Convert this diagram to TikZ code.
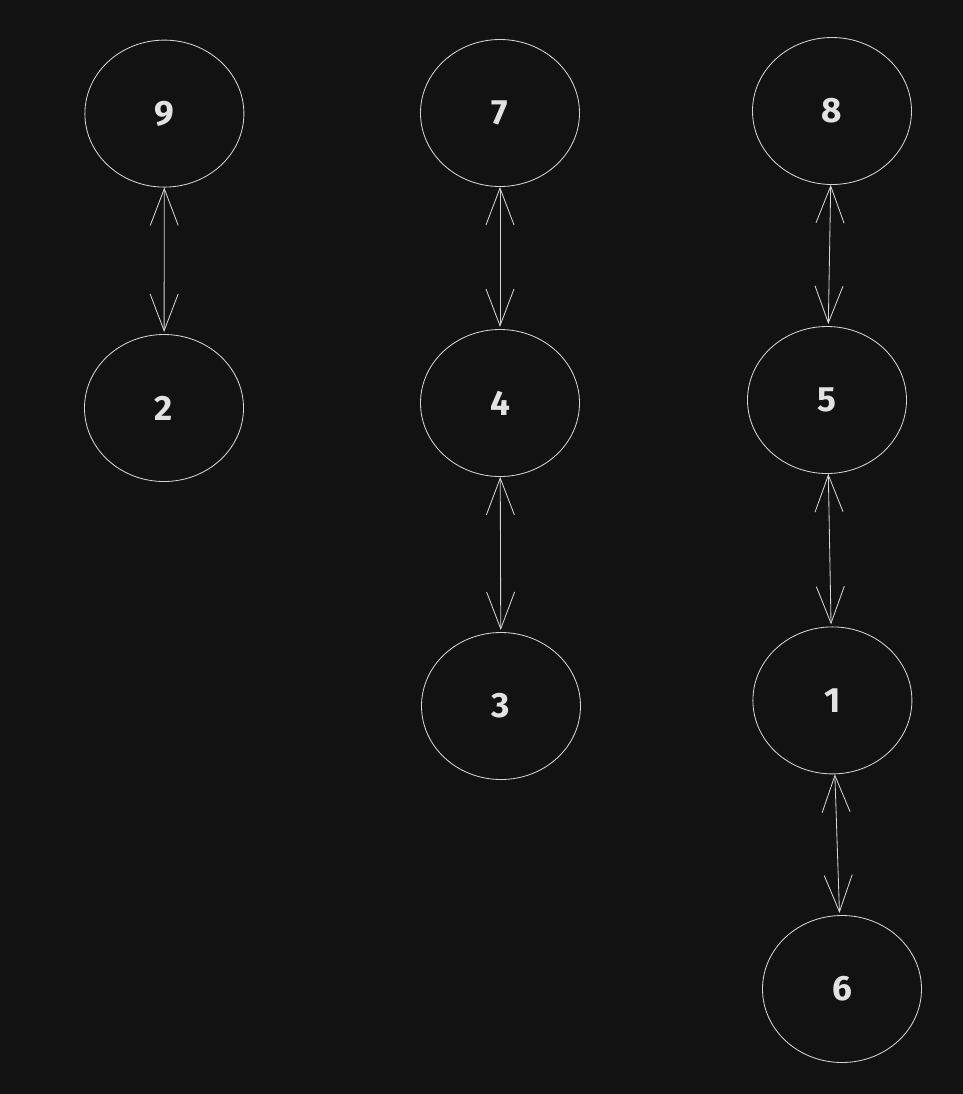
\documentclass[tikz,border=0pt]{standalone}
\usepackage{fontspec}
\setmainfont{Fira Sans}
\usetikzlibrary{shapes.geometric,arrows.meta}
\definecolor{fondo}{HTML}{121212}
\definecolor{trazo}{HTML}{D4D4D4}
\definecolor{texto}{HTML}{E2E2E2}
\tikzset{
  nodo/.style={ellipse,draw=trazo,line width=0.6pt,minimum width=3.975cm,minimum height=3.675cm,inner sep=0pt,text=texto,font=\bfseries\fontsize{25}{25}\selectfont},
  enlace/.style={draw=trazo,line width=0.6pt,{Straight Barb[length=0.92cm,width=0.7cm]}-{Straight Barb[length=0.92cm,width=0.7cm]},shorten >=1.5pt}
}
\begin{document}
\begin{tikzpicture}
      % Fondo
      \fill[fondo] (0,0) rectangle (24.075,-27.35);

      % Nodos
      \node[nodo] (n9) at (4.11,-2.84) {9};
      \node[nodo] (n2) at (4.10,-10.2) {2};
      \node[nodo] (n7) at (12.5,-2.825) {7};
      \node[nodo] (n4) at (12.5,-10.075) {4};
      \node[nodo] (n3) at (12.525,-17.65) {3};
      \node[nodo] (n8) at (20.8,-2.775) {8};
      \node[nodo] (n5) at (20.675,-10.0) {5};
      \node[nodo] (n1) at (20.81,-17.51) {1};
      \node[nodo] (n6) at (21.05,-24.725) {6};

      % Enlaces
      \draw[enlace] (n9) -- (n2);
      \draw[enlace] (n7) -- (n4);
      \draw[enlace] (n4) -- (n3);
      \draw[enlace] (n8) -- (n5);
      \draw[enlace] (n5) -- (n1);
      \draw[enlace] (n1) -- (n6);
    \end{tikzpicture}
\end{document}
